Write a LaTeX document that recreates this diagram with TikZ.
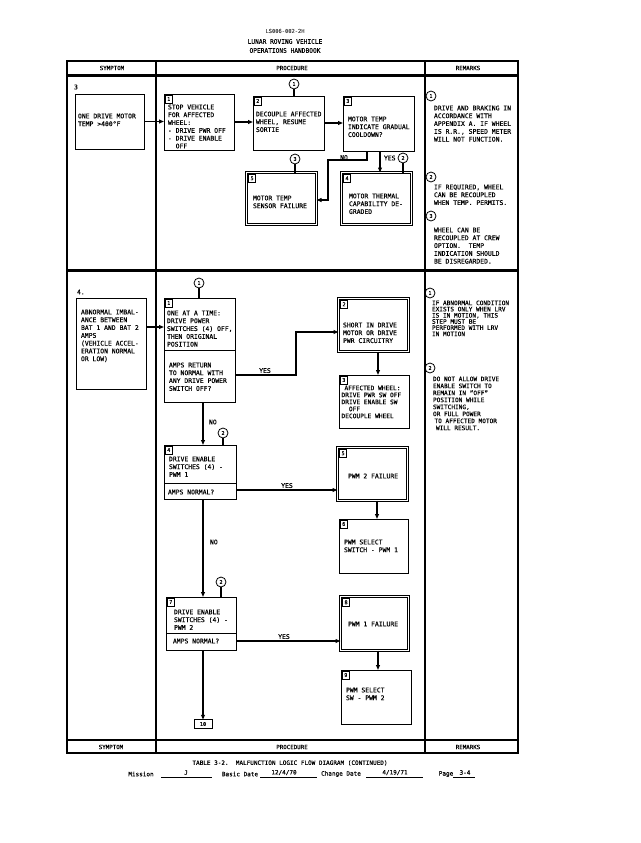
\documentclass[tikz,border=0pt]{standalone}
\usepackage{fontspec}
\setmainfont{DejaVu Sans Mono}[FakeBold=0.3]
\usetikzlibrary{arrows.meta}
\newcommand\fsA{\fontsize{6.4}{7.8}\selectfont}
\newcommand\fsB{\fontsize{6.1}{6.2}\selectfont}
\newcommand\fsC{\fontsize{6.1}{7.0}\selectfont}
\newcommand\fsT{\fontsize{5.2}{6}\selectfont}
\begin{document}
\begin{tikzpicture}[x=1pt,y=-1pt,
  every node/.style={inner sep=0pt, outer sep=0pt},
  box/.style 2 args={draw, line width=1pt, minimum width=#1, minimum height=#2},
  dbox/.style 2 args={draw, line width=0.7pt, double, double distance=1.4pt, minimum width=#1, minimum height=#2},
  tag/.style={draw, line width=0.7pt, minimum width=7.5pt, minimum height=8pt, font=\fsT, anchor=north west},
  circ/.style={circle, draw, line width=0.8pt, minimum size=10pt, font=\fsT},
  txt/.style={font=\fsA, align=left, anchor=north west},
  lbl/.style={font=\fsA},
  conn/.style={line width=1.4pt},
  arr/.style={conn, -{Triangle[length=5pt,width=3.8pt]}},
  frame/.style={line width=1.1pt},
  thick rule/.style={line width=2.2pt}
]
\useasboundingbox (0,0) rectangle (640,843);

% ---------- page header ----------
\node[font=\fontsize{5.4}{6}\selectfont, text=black!70] (hid) at (285,31) {LS006-002-2H};
\node[font=\fontsize{6.2}{7}\selectfont] (htitle) at (285,41.5) {LUNAR ROVING VEHICLE};
\node[font=\fontsize{6.2}{7}\selectfont] (hbook) at (285,50.5) {OPERATIONS HANDBOOK};

% ---------- table frame ----------
\draw[frame] (67,61) rectangle (518,753);
\draw[thick rule] (67,75.5) -- (518,75.5);
\draw[thick rule] (67,270.5) -- (518,270.5);
\draw[thick rule] (67,740) -- (518,740);
\draw[frame] (156,61) -- (156,753);
\draw[frame] (425,61) -- (425,753);
\node[font=\fontsize{5.8}{7}\selectfont] (hsym) at (112,68) {SYMPTOM};
\node[font=\fontsize{5.8}{7}\selectfont] (hproc) at (292,68) {PROCEDURE};
\node[font=\fontsize{5.8}{7}\selectfont] (hrem) at (468,68) {REMARKS};
\node[font=\fontsize{5.8}{7}\selectfont] (fsym) at (111,747) {SYMPTOM};
\node[font=\fontsize{5.8}{7}\selectfont] (fproc) at (292,747) {PROCEDURE};
\node[font=\fontsize{5.8}{7}\selectfont] (frem) at (468,747) {REMARKS};

% ================= SECTION 3 =================
\node[lbl, anchor=west] (n3) at (74,87) {3};
\node[box={69pt}{55pt}] (s3) at (109.5,121.5) {};
\node[txt] (s3t) at (78,113.6) {ONE DRIVE MOTOR\\TEMP >400°F};

\node[box={70pt}{56pt}] (b31) at (199,122) {};
\node[tag] (g31) at ([shift={(1,1)}]b31.north west) {1};
\node[txt] (b31t) at (168,104.6) {STOP VEHICLE\\FOR AFFECTED\\WHEEL:\\- DRIVE PWR OFF\\- DRIVE ENABLE\\\hspace*{7.7pt}OFF};

\node[box={71pt}{54pt}] (b32) at (288.5,123) {};
\node[tag] (g32) at ([shift={(1,1)}]b32.north west) {2};
\node[txt] (b32t) at (256,111.6) {DECOUPLE AFFECTED\\WHEEL, RESUME\\SORTIE};

\node[box={71pt}{55pt}] (b33) at (378.5,123.5) {};
\node[tag] (g33) at ([shift={(1,1)}]b33.north west) {3};
\node[txt] (b33t) at (348,116.6) {MOTOR TEMP\\INDICATE GRADUAL\\COOLDOWN?};

\node[dbox={70pt}{52pt}] (b35) at (281.5,198.5) {};
\node[tag] (g35) at ([shift={(1.8,1.8)}]b35.north west) {5};
\node[txt] (b35t) at (253,195.6) {MOTOR TEMP\\SENSOR FAILURE};

\node[dbox={70pt}{52pt}] (b34) at (376.5,198.5) {};
\node[tag] (g34) at ([shift={(1.8,1.8)}]b34.north west) {4};
\node[txt] (b34t) at (349,193.6) {MOTOR THERMAL\\CAPABILITY DE-\\GRADED};

\node[circ] (c31) at (294,84) {1};
\node[circ] (c33) at (295,159) {3};
\node[circ] (c32) at (403,158) {2};

\draw[arr] (s3.east) -- (s3.east -| b31.west);
\draw[arr] (b31.east) -- (b31.east -| b32.west);
\draw[arr] (b32.east) -- (b32.east -| b33.west);
\draw[conn] (c31.south) -- (c31.south |- b32.north);
\draw[conn] (c33.south) -- (c33.south |- b35.north);
\draw[conn] (c32.south) -- (c32.south |- b34.north);
\coordinate (n1) at (367,160);
\coordinate (n2) at (328,200);
\draw[arr] (b33.south -| n1) -- (n1) -- (n1 -| n2) -- (n2) -- (n2 -| b35.east);
\coordinate (y3) at (380,160);
\draw[arr] (b33.south -| y3) -- (b34.north -| y3);
\node[lbl, anchor=south] (no3) at (344,160) {NO};
\node[lbl, anchor=west] (yes3) at (384,158) {YES};

% remarks 3
\node[circ] (rc31) at (431,96) {1};
\node[txt] (r31) at (434,105.6) {DRIVE AND BRAKING IN\\ACCORDANCE WITH\\APPENDIX A. IF WHEEL\\IS R.R., SPEED METER\\WILL NOT FUNCTION.};
\node[circ] (rc32) at (431,177) {2};
\node[txt] (r32) at (434,184.6) {IF REQUIRED, WHEEL\\CAN BE RECOUPLED\\WHEN TEMP. PERMITS.};
\node[circ] (rc33) at (431,216) {3};
\node[txt] (r33) at (434,227.6) {WHEEL CAN BE\\RECOUPLED AT CREW\\OPTION.\ \ TEMP\\INDICATION SHOULD\\BE DISREGARDED.};

% ================= SECTION 4 =================
\node[lbl, anchor=west] (n4) at (77,292) {4.};
\node[box={70pt}{91pt}] (s4) at (111,343.5) {};
\node[txt] (s4t) at (81,309.6) {ABNORMAL IMBAL-\\ANCE BETWEEN\\BAT 1 AND BAT 2\\AMPS\\(VEHICLE ACCEL-\\ERATION NORMAL\\OR LOW)};

\node[box={71pt}{104pt}] (b41) at (199.5,350) {};
\draw[line width=1pt] (b41.west) -- (b41.east);
\node[tag] (g41) at ([shift={(1,1)}]b41.north west) {1};
\node[txt] (b41t) at (167,310.6) {ONE AT A TIME:\\DRIVE POWER\\SWITCHES (4) OFF,\\THEN ORIGINAL\\POSITION};
\node[txt] (b41q) at (169,362.6) {AMPS RETURN\\TO NORMAL WITH\\ANY DRIVE POWER\\SWITCH OFF?};

\node[dbox={70pt}{53pt}] (b42) at (373.5,325) {};
\node[tag] (g42) at ([shift={(1.8,1.8)}]b42.north west) {2};
\node[txt] (b42t) at (343,322.6) {SHORT IN DRIVE\\MOTOR OR DRIVE\\PWR CIRCUITRY};

\node[box={70pt}{53pt}] (b43) at (374,401.5) {};
\node[tag] (g43) at ([shift={(1,1)}]b43.north west) {3};
\node[txt, font=\fontsize{6.2}{7}\selectfont] (b43t) at (341.5,385.6) {\hspace*{3pt}AFFECTED WHEEL:\\DRIVE PWR SW OFF\\DRIVE ENABLE SW\\\hspace*{7.4pt}OFF\\DECOUPLE WHEEL};

\node[box={72pt}{54pt}] (b44) at (200,472) {};
\coordinate (d44) at (0,483);
\draw[line width=1pt] (b44.west |- d44) -- (b44.east |- d44);
\node[tag] (g44) at ([shift={(1,1)}]b44.north west) {4};
\node[txt] (b44t) at (169,456.6) {DRIVE ENABLE\\SWITCHES (4) -\\PWM 1};
\node[txt] (b44q) at (168,489.6) {AMPS NORMAL?};

\node[dbox={70pt}{53pt}] (b45) at (372.5,474) {};
\node[tag] (g45) at ([shift={(1.8,1.8)}]b45.north west) {5};
\node[txt] (b45t) at (348,473.6) {PWM 2 FAILURE};

\node[box={69pt}{54pt}] (b46) at (373.5,546) {};
\node[tag] (g46) at ([shift={(1,1)}]b46.north west) {6};
\node[txt] (b46t) at (344,539.6) {PWM SELECT\\SWITCH - PWM 1};

\node[box={70pt}{53pt}] (b47) at (201,623.5) {};
\coordinate (d47) at (0,633);
\draw[line width=1pt] (b47.west |- d47) -- (b47.east |- d47);
\node[tag] (g47) at ([shift={(1,1)}]b47.north west) {7};
\node[txt] (b47t) at (174,609.6) {DRIVE ENABLE\\SWITCHES (4) -\\PWM 2};
\node[txt] (b47q) at (173,638.6) {AMPS NORMAL?};

\node[dbox={68pt}{54pt}] (b48) at (374.5,623.5) {};
\node[tag] (g48) at ([shift={(1.8,1.8)}]b48.north west) {8};
\node[txt] (b48t) at (348,621.6) {PWM 1 FAILURE};

\node[box={70pt}{54pt}] (b49) at (376,697) {};
\node[tag] (g49) at ([shift={(1,1)}]b49.north west) {9};
\node[txt] (b49t) at (346,687.6) {PWM SELECT\\SW - PWM 2};

\node[draw, line width=1pt, minimum width=18pt, minimum height=8.5pt, font=\fsT] (b410) at (203,724) {10};

\node[circ] (c41) at (199,283) {1};
\node[circ] (c42a) at (223,433) {2};
\node[circ] (c42b) at (221,582) {2};

\coordinate (h1) at (0,327);
\draw[arr] (s4.east |- h1) -- (b41.west |- h1);
\draw[conn] (c41.south) -- (c41.south |- b41.north);
\coordinate (ya) at (296,375);
\coordinate (yb) at (296,332);
\draw[arr] (b41.east |- ya) -- (ya) -- (yb) -- (b42.west |- yb);
\node[lbl, anchor=south] (yes41) at (265,373) {YES};
\coordinate (x42) at (378,0);
\draw[arr] (b42.south -| x42) -- (b43.north -| x42);

\coordinate (v) at (203,0);
\draw[arr] (b41.south -| v) -- (b44.north -| v);
\node[lbl, anchor=west] (no41) at (209,422) {NO};
\draw[conn] (c42a.south) -- (c42a.south |- b44.north);
\coordinate (h2) at (0,490);
\draw[arr] (b44.east |- h2) -- (b45.west |- h2);
\node[lbl, anchor=south] (yes44) at (287,488) {YES};
\coordinate (x45) at (377,0);
\draw[arr] (b45.south -| x45) -- (b46.north -| x45);

\draw[arr] (b44.south -| v) -- (b47.north -| v);
\node[lbl, anchor=west] (no44) at (210,542) {NO};
\draw[conn] (c42b.south) -- (c42b.south |- b47.north);
\coordinate (h3) at (0,641);
\draw[arr] (b47.east |- h3) -- (b48.west |- h3);
\node[lbl, anchor=south] (yes47) at (284,639) {YES};
\coordinate (x48) at (378,0);
\draw[arr] (b48.south -| x48) -- (b49.north -| x48);
\draw[arr] (b47.south -| v) -- (b410.north);

% remarks 4
\node[circ] (rc41) at (430,293) {1};
\node[txt, font=\fsB] (r41) at (432,300.6) {IF ABNORMAL CONDITION\\EXISTS ONLY WHEN LRV\\IS IN MOTION, THIS\\STEP MUST BE\\PERFORMED WITH LRV\\IN MOTION};
\node[circ] (rc42) at (430,368) {2};
\node[txt, font=\fsC] (r42) at (433,376.6) {DO NOT ALLOW DRIVE\\ENABLE SWITCH TO\\REMAIN IN "OFF"\\POSITION WHILE\\SWITCHING,\\OR FULL POWER\\\hspace*{1.5pt}TO AFFECTED MOTOR\\\hspace*{3pt}WILL RESULT.};

% ---------- footer ----------
\node[font=\fontsize{6}{7}\selectfont] (ftitle) at (290,763) {TABLE 3-2.\ \ MALFUNCTION LOGIC FLOW DIAGRAM (CONTINUED)};
\node[font=\fontsize{6}{7}\selectfont] (fmis) at (141,774) {Mission};
\node[font=\fontsize{6}{7}\selectfont] (fmisv) at (186,772.5) {J};
\node[font=\fontsize{6}{7}\selectfont] (fbas) at (240,774) {Basic Date};
\node[font=\fontsize{6}{7}\selectfont] (fbasv) at (284,772.5) {12/4/70};
\node[font=\fontsize{6}{7}\selectfont] (fchg) at (341,774) {Change Date};
\node[font=\fontsize{6}{7}\selectfont] (fchgv) at (395,772.5) {4/19/71};
\node[font=\fontsize{6}{7}\selectfont] (fpag) at (446,774) {Page};
\node[font=\fontsize{6}{7}\selectfont] (fpagv) at (465,772.5) {3-4};
\draw[line width=0.7pt] (161,777.5) -- (212,777.5);
\draw[line width=0.7pt] (260,777.5) -- (317,777.5);
\draw[line width=0.7pt] (366,777.5) -- (423,777.5);
\draw[line width=0.7pt] (453,777.5) -- (475,777.5);
\end{tikzpicture}
\end{document}
